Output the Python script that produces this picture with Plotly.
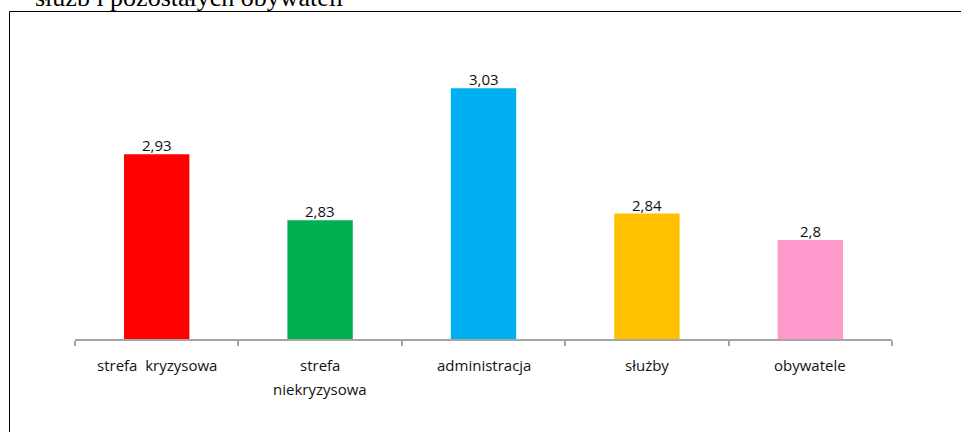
import plotly.graph_objects as go

# Chart data
categories = ["strefa  kryzysowa", "strefa\nniekryzysowa", "administracja", "służby", "obywatele"]
values = [2.93, 2.83, 3.03, 2.84, 2.8]
bar_colors = ["#FF0000", "#00B050", "#00B0F0", "#FFC000", "#FF99CC"]
title_text = "służb i pozostałych obywateli"

W, H = 961, 432
ML, MR, MT, MB = 75, 69, 42, 93
plot_w = W - ML - MR
plot_h = H - MT - MB


def px_x(px):
    return (px - ML) / plot_w


def px_y(py):
    return (H - MB - py) / plot_h


labels = [f"{v:g}".replace(".", ",") for v in values]
x_idx = list(range(len(categories)))

fig = go.Figure(
    go.Bar(
        x=x_idx,
        y=values,
        marker=dict(color=bar_colors, line=dict(width=0)),
        width=0.4,
        cliponaxis=False,
        hoverinfo="skip",
    )
)

annotations = []
# value labels above each bar
for i, (v, lab) in enumerate(zip(values, labels)):
    annotations.append(
        dict(
            x=i, xref="x", y=v, yref="y",
            text=lab, showarrow=False,
            xanchor="center", yanchor="middle", yshift=9,
            font=dict(family="Open Sans", size=15, color="#111111"),
        )
    )

# category labels under the axis
for i, cat in enumerate(categories):
    for j, line in enumerate(cat.split("\n")):
        annotations.append(
            dict(
                x=i, xref="x",
                y=px_y(365 + 24 * j), yref="paper",
                text=line.replace("  ", "&nbsp; "),
                showarrow=False,
                xanchor="center", yanchor="middle",
                font=dict(family="Open Sans", size=15, color="#111111"),
            )
        )

annotations.append(
    dict(
        x=px_x(33), xref="paper",
        y=px_y(14), yref="paper",
        text=title_text,
        showarrow=False,
        xanchor="left", yanchor="bottom",
        font=dict(family="Liberation Serif", size=26, color="#000000"),
    )
)

fig.update_layout(
    width=W, height=H,
    margin=dict(l=ML, r=MR, t=MT, b=MB),
    paper_bgcolor="white",
    plot_bgcolor="white",
    showlegend=False,
    separators=", ",
    annotations=annotations,
    shapes=[
        dict(
            type="rect", xref="paper", yref="paper",
            x0=px_x(9.5), x1=px_x(980), y0=px_y(11.5), y1=px_y(450),
            line=dict(color="black", width=1),
            fillcolor="rgba(0,0,0,0)",
            layer="below",
        )
    ],
    xaxis=dict(
        type="linear",
        range=[-0.5, len(categories) - 0.5],
        tickvals=[i - 0.5 for i in range(len(categories) + 1)],
        showticklabels=False,
        ticks="outside",
        ticklen=5,
        tickwidth=1.5,
        tickcolor="#A6A6A6",
        showline=True,
        linecolor="#A6A6A6",
        linewidth=1.5,
        showgrid=False,
        zeroline=False,
    ),
    yaxis=dict(
        range=[2.65, 3.1],
        visible=False,
        showgrid=False,
        zeroline=False,
    ),
)

fig.write_html("out.html")
